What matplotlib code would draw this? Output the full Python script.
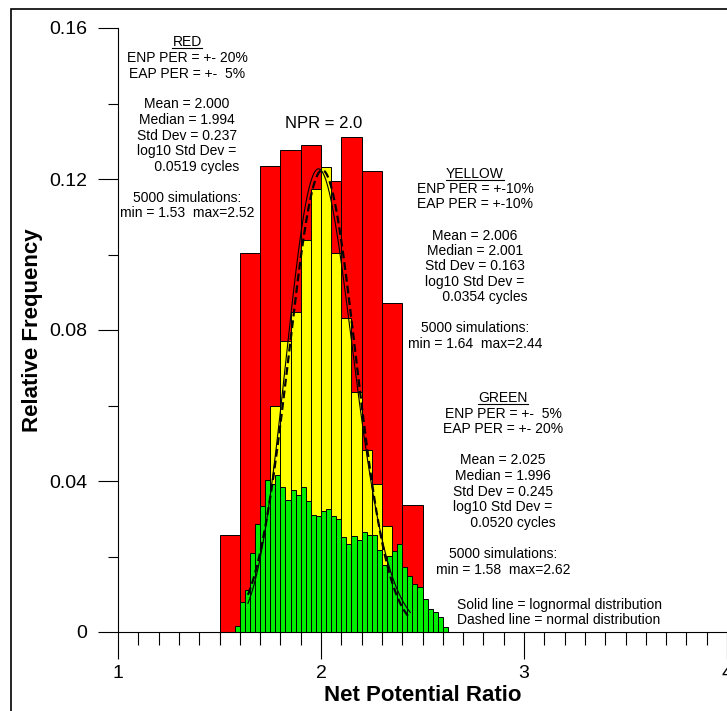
import numpy as np
import matplotlib.pyplot as plt
from matplotlib.ticker import MultipleLocator
from matplotlib.patches import Rectangle
from matplotlib.lines import Line2D
from matplotlib.transforms import IdentityTransform

plt.rcParams['font.family'] = ['Liberation Sans', 'DejaVu Sans']

#relative frequency per bin
red_start, red_width = 1.5, 0.1      #ENP PER +-20%, EAP PER +-5%
red_freq = [0.0257, 0.1005, 0.1234, 0.1277, 0.1289, 0.1196, 0.1311, 0.1222, 0.0871, 0.0337]

yellow_start, yellow_width = 1.6, 0.05   #ENP PER +-10%, EAP PER +-10%
yellow_freq = [0.002, 0.012, 0.028, 0.0599, 0.0770, 0.0848, 0.1038, 0.1173, 0.1231,
               0.1005, 0.0831, 0.0637, 0.0482, 0.0392, 0.0282, 0.015, 0.004]

green_start, green_width = 1.575, 0.025  #ENP PER +-5%, EAP PER +-20%
green_freq = [0.0015, 0.0079, 0.0112, 0.0208, 0.0287, 0.0335, 0.0402, 0.0391, 0.0415, 0.0384,
              0.0349, 0.0375, 0.0362, 0.0384, 0.0347, 0.0311, 0.0308, 0.0321, 0.0325, 0.0306,
              0.0300, 0.0252, 0.0232, 0.0255, 0.0243, 0.0265, 0.0258, 0.0258, 0.0216, 0.0177,
              0.0201, 0.0215, 0.0232, 0.0172, 0.0148, 0.0128, 0.0118, 0.0088, 0.0062, 0.0053,
              0.0040, 0.0013]

#yellow run statistics -> fitted normal / lognormal curves
yel_mean, yel_sd = 2.006, 0.163
yel_median, yel_log10_sd = 2.001, 0.0354
yel_min, yel_max = 1.64, 2.44

x_ticks = [1, 2, 3, 4]
y_ticks = [0, 0.04, 0.08, 0.12, 0.16]
y_tick_labels = ["0", "0.04", "0.08", "0.12", "0.16"]

red_text = ["ENP PER = +- 20%", "EAP PER = +-  5%", "", "Mean = 2.000", "Median = 1.994",
            "Std Dev = 0.237", "log10 Std Dev =", "     0.0519 cycles", "",
            "5000 simulations:", "min = 1.53  max=2.52"]
yellow_text = ["ENP PER = +-10%", "EAP PER = +-10%", "", "Mean = 2.006", "Median = 2.001",
               "Std Dev = 0.163", "log10 Std Dev =", "     0.0354 cycles", "",
               "5000 simulations:", "min = 1.64  max=2.44"]
green_text = ["ENP PER = +-  5%", "EAP PER = +- 20%", "", "Mean = 2.025", "Median = 1.996",
              "Std Dev = 0.245", "log10 Std Dev =", "     0.0520 cycles", "",
              "5000 simulations:", "min = 1.58  max=2.62"]

W, H = 727, 711
fig = plt.figure(figsize=(W/100, H/100), dpi=100)
ax = fig.add_axes([118/W, (H-632)/H, (W-118)/W, (632-28)/H])
ax.set_xlim(1, 4)
ax.set_ylim(0, 0.16)
ax.patch.set_alpha(0)

def px(x, y):
    #pixel position in the picture -> data coords
    return 1 + (x-118)/203, (632-y)*0.16/604

#histograms
for start, width, freq, col in [(red_start, red_width, red_freq, '#ff0000'),
                                (yellow_start, yellow_width, yellow_freq, '#ffff00'),
                                (green_start, green_width, green_freq, '#00ee00')]:
    lefts = start + width*np.arange(len(freq))
    ax.bar(lefts, freq, width=width, align='edge', color=col, edgecolor='black', linewidth=0.7)

#fitted curves over the yellow range
xs = np.linspace(yel_min, yel_max, 300)
normal = yellow_width*np.exp(-0.5*((xs-yel_mean)/yel_sd)**2)/(yel_sd*np.sqrt(2*np.pi))
s = yel_log10_sd*np.log(10)
lognorm = yellow_width*np.exp(-0.5*((np.log(xs)-np.log(yel_median))/s)**2)/(xs*s*np.sqrt(2*np.pi))
ax.plot(xs, lognorm, color='black', lw=0.8)
ax.plot(xs, normal, color='black', lw=1.6, dashes=(3.5, 1.8))

#text blocks
headers = []
def block(cx, y0, header, lines, step):
    x, y = px(cx, y0 + 4.5)
    headers.append(ax.text(x, y, header, ha='center', va='baseline', fontsize=10))
    for i, line in enumerate(lines, start=1):
        x, y = px(cx, y0 + i*step + 4.5)
        ax.text(x, y, line, ha='center', va='baseline', fontsize=10)

block(187, 42, "RED", red_text, 15.5)
block(475, 173, "YELLOW", yellow_text, 15.5)
block(503, 397.5, "GREEN", green_text, 15.6)

x, y = px(457, 608.5)
ax.text(x, y, "Solid line = lognormal distribution", ha='left', va='baseline', fontsize=10)
x, y = px(457, 623.8)
ax.text(x, y, "Dashed line = normal distribution", ha='left', va='baseline', fontsize=10)
x, y = px(324, 128)
ax.text(x, y, "NPR = 2.0", ha='center', va='baseline', fontsize=12)

#axes / ticks
ax.set_xticks(x_ticks)
ax.set_xticklabels([str(v) for v in x_ticks])
ax.xaxis.set_minor_locator(MultipleLocator(0.1))
ax.set_yticks(y_ticks)
ax.set_yticklabels(y_tick_labels)
ax.yaxis.set_minor_locator(MultipleLocator(0.02))
ax.tick_params(axis='x', which='major', direction='out', length=19.5, width=0.8, pad=4, labelsize=14)
ax.tick_params(axis='x', which='minor', direction='out', length=9, width=0.8)
ax.tick_params(axis='y', which='major', direction='out', length=14.5, width=0.8, pad=7.5, labelsize=14)
ax.tick_params(axis='y', which='minor', direction='out', length=7.2, width=0.8)
for side in ['top', 'right']:
    ax.spines[side].set_visible(False)
for side in ['left', 'bottom']:
    ax.spines[side].set_linewidth(0.8)

ax.set_xlabel("Net Potential Ratio", fontsize=16, fontweight='bold')
ax.xaxis.set_label_coords(0.5, -0.0877)
ax.set_ylabel("Relative Frequency", fontsize=16, fontweight='bold')
ax.yaxis.set_label_coords(-0.123, 0.5)

#outer frame (cut off at the right and bottom of the picture)
fig.add_artist(Rectangle((11/W, -0.5), 2, (H-9)/H + 0.5, transform=fig.transFigure,
                         fill=False, edgecolor='black', lw=1.2, clip_on=False))

#underline the block headers
fig.canvas.draw()
for t in headers:
    bb = t.get_window_extent()
    _, yb = ax.transData.transform(t.get_position())
    fig.add_artist(Line2D([bb.x0, bb.x1], [yb-2, yb-2], transform=IdentityTransform(),
                          color='black', lw=0.8))

fig.savefig("out.png", dpi=100)
